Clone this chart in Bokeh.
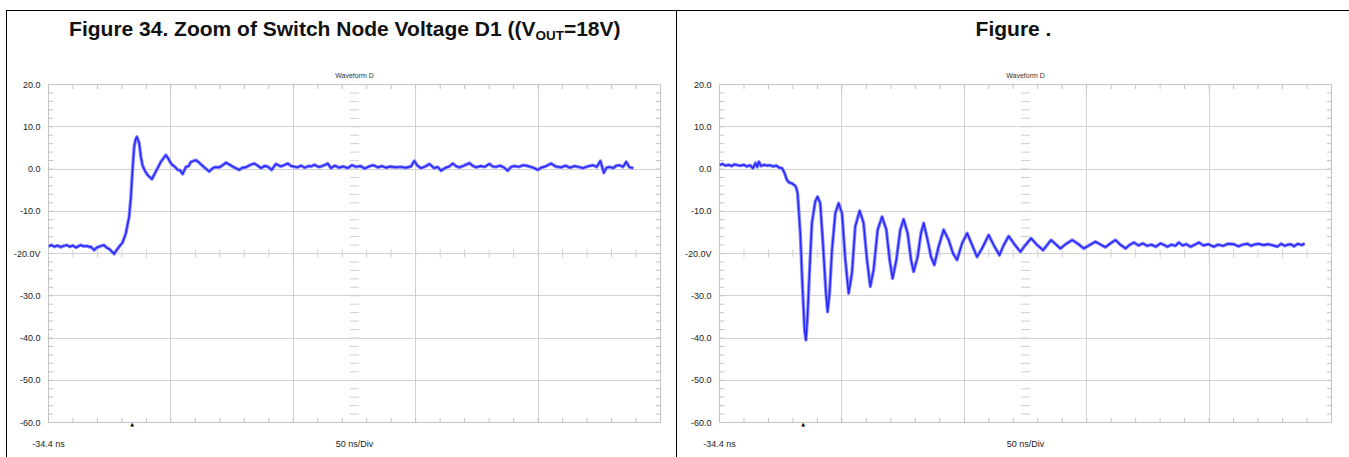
import numpy as np
from bokeh.plotting import figure
from bokeh.layouts import row, column
from bokeh.models import Range1d, FixedTicker, LinearAxis, Spacer
from bokeh.core.properties import value
from bokeh.embed import file_html
from bokeh.resources import INLINE

# ---- scope screen settings -------------------------------------------------
T_LEFT = -34.4          # ns at the left edge of the screen
NS_PER_DIV = 50.0
N_DIV = 10
V_TOP, V_BOTTOM = 20.0, -60.0
TRIGGER_NS = 34.0

y_ticks = [20, 10, 0, -10, -20, -30, -40, -50, -60]
y_tick_labels = ["20.0", "10.0", "0.0", "-10.0", "-20.0V", "-30.0", "-40.0", "-50.0", "-60.0"]
x_axis_labels = ["-34.4 ns", "50 ns/Div"]
channel_name = "Waveform D"

# ---- switch node D1, rising edge (ns, V) ------------------------------------
t_rise = [-34.4, -32.0, -29.5, -27.0, -24.5, -22.0, -19.5, -17.0, -14.5, -12.0,
          -9.5, -8.0, -5.5, -3.0, -0.5, 0.2, 2.9, 5.0, 7.5, 10.8,
          13.0, 15.5, 17.5, 19.2, 21.0, 23.3, 26.1, 28.8, 30.3, 31.5,
          32.9, 34.3, 35.6, 36.8, 37.8, 39.7, 41.0, 42.4, 44.5, 46.5,
          50.1, 53.3, 57.4, 61.5, 63.4, 65.5, 67.0, 69.0, 71.1, 73.0,
          75.2, 77.9, 80.0, 82.0, 86.0, 88.7, 92.8, 96.9, 99.0, 101.0,
          105.1, 108.0, 110.6, 116.0, 118.5, 121.4, 124.0, 126.9, 130.0, 133.7,
          136.5, 139.2, 142.0, 144.6, 147.9, 151.4, 155.5, 158.0, 161.0, 164.0,
          169.2, 172.0, 175.0, 178.0, 180.0, 183.0, 186.0, 188.2, 191.0, 193.7,
          196.4, 199.5, 203.0, 206.5, 210.0, 213.5, 217.0, 220.5, 224.0, 227.5,
          231.0, 234.5, 238.0, 241.5, 245.0, 249.0, 253.6, 257.5, 261.8, 264.5,
          267.0, 269.9, 273.5, 276.8, 280.8, 283.5, 286.3, 290.0, 293.0, 295.9,
          298.5, 301.3, 305.0, 309.5, 312.0, 314.9, 318.5, 322.0, 325.8, 328.5,
          331.3, 334.5, 337.5, 340.8, 343.5, 346.2, 350.0, 353.5, 357.2, 361.0,
          365.4, 368.0, 371.5, 376.2, 380.0, 384.4, 388.0, 391.5, 395.3, 398.5,
          402.2, 406.0, 410.3, 413.5, 416.5, 419.3, 421.5, 424.0, 427.0, 429.5,
          432.1, 435.0, 437.6, 440.3, 443.5]
v_rise = [-18.3, -18.0, -18.4, -18.1, -18.5, -18.2, -18.0, -18.4, -18.1, -18.6,
          -18.2, -18.0, -18.3, -18.2, -18.5, -18.4, -19.2, -18.6, -18.3, -18.0,
          -18.6, -19.0, -19.6, -20.1, -19.3, -18.4, -17.4, -15.2, -13.0, -11.3,
          -6.6, 0.0, 5.3, 7.0, 7.6, 6.1, 3.0, 0.9, -0.5, -1.4,
          -2.4, -0.6, 1.7, 3.3, 2.5, 1.4, 0.9, 0.5, -0.2, -0.3,
          -1.2, 0.5, 0.7, 1.7, 2.1, 1.5, 0.4, -0.6, 0.0, 0.4,
          0.4, 0.9, 1.5, 0.6, 0.2, -0.2, 0.3, 0.4, 0.9, 1.3,
          0.8, 0.2, 0.7, 0.6, -0.2, 1.2, 0.6, 0.9, 1.3, 0.7,
          0.4, 0.8, 0.3, 0.7, 0.6, 1.0, 0.5, 0.6, 0.9, 1.3,
          0.2, 0.8, 0.3, 0.6, 0.2, 0.9, 0.5, 0.7, 0.1, 0.6,
          0.9, 0.4, 0.7, 0.3, 0.6, 0.4, 0.5, 0.3, 0.6, 1.9,
          0.8, 0.2, 0.6, 1.2, 0.2, 0.5, -0.4, 0.3, 0.6, 1.3,
          0.7, 0.4, 0.8, 1.4, 0.8, 0.4, 0.7, 0.5, 1.2, 0.6,
          0.5, 0.8, 0.4, -0.4, 0.5, 0.7, 0.5, 0.9, 0.7, 0.4,
          -0.2, 0.3, 0.6, 1.3, 0.6, 0.4, 0.8, 0.3, 0.7, 0.5,
          0.2, 0.6, 0.9, 0.5, 1.9, -0.9, 0.3, 0.5, 0.2, 0.8,
          0.9, 0.5, 1.7, 0.4, 0.2]

# ---- switch node, falling edge with ringing (ns, V) -------------------------
t_fall = [-34.4, -32.0, -29.5, -27.0, -24.5, -22.0, -19.5, -17.0, -14.5, -12.0,
          -9.5, -7.0, -5.0, -3.5, -2.2, -0.5, 2.0, 4.5, 7.0, 9.5,
          12.0, 14.5, 16.6, 18.5, 20.7, 22.5, 24.8, 27.5, 28.5, 29.4,
          31.6, 33.5, 35.1, 36.2, 37.5, 39.2, 41.1, 43.8, 45.7, 47.9,
          50.1, 52.6, 53.9, 55.5, 57.5, 60.2, 62.9, 65.7, 68.4, 71.1,
          73.8, 76.5, 80.1, 83.3, 86.1, 88.8, 91.5, 94.8, 98.4, 101.9,
          104.6, 107.0, 110.1, 113.3, 116.0, 119.3, 122.1, 124.2, 127.5, 130.2,
          132.4, 135.6, 138.4, 141.1, 144.6, 148.7, 152.8, 156.4, 159.7, 163.8,
          167.9, 171.4, 176.0, 180.1, 185.5, 189.6, 194.3, 197.8, 201.9, 206.0,
          211.4, 215.5, 220.2, 225.1, 230.0, 236.5, 244.1, 248.5, 253.7, 258.0,
          263.2, 268.0, 272.7, 277.0, 280.9, 285.0, 289.1, 293.0, 297.3, 300.5,
          304.1, 308.0, 311.5, 315.0, 318.5, 322.0, 325.9, 329.0, 331.4, 335.0,
          338.0, 340.8, 344.0, 347.0, 350.4, 354.0, 357.2, 361.0, 365.0, 369.5,
          373.0, 377.0, 381.0, 385.8, 389.5, 393.0, 397.0, 400.0, 402.2, 406.0,
          410.0, 414.0, 418.0, 421.3, 424.5, 427.5, 430.0, 432.2, 435.0, 438.0,
          441.7, 443.6]
v_fall = [0.9, 1.2, 0.8, 1.0, 0.7, 1.1, 0.9, 0.8, 1.0, 0.6,
          0.9, 0.2, 1.4, 0.5, 1.7, 0.7, 1.0, 0.8, 0.9, 0.6,
          0.8, 0.3, 0.2, -0.8, -2.6, -3.2, -3.4, -4.0, -4.6, -5.75,
          -15.2, -28.6, -38.1, -40.5, -35.0, -23.9, -12.8, -7.7, -6.55, -8.1,
          -17.6, -29.4, -33.8, -29.4, -19.2, -10.5, -8.1, -10.5, -21.5, -29.4,
          -24.7, -13.6, -9.9, -12.8, -21.5, -27.8, -23.9, -14.4, -11.3, -14.4,
          -21.5, -25.9, -21.5, -14.4, -11.9, -15.2, -21.5, -24.3, -20.8, -15.2,
          -12.8, -16.8, -20.8, -22.7, -18.4, -14.4, -16.8, -20.0, -21.5, -17.6,
          -15.2, -17.6, -20.8, -18.8, -15.6, -18.0, -20.4, -18.0, -15.9, -17.6,
          -19.6, -18.0, -16.4, -18.0, -19.2, -16.8, -18.8, -17.8, -16.8, -17.6,
          -18.8, -18.0, -17.2, -17.9, -18.5, -17.6, -16.8, -17.9, -18.8, -18.0,
          -17.4, -18.1, -17.6, -18.2, -17.9, -18.4, -17.6, -18.0, -18.4, -17.9,
          -18.2, -17.4, -18.1, -17.8, -18.4, -17.9, -17.4, -18.1, -17.8, -18.4,
          -17.9, -18.2, -17.7, -17.8, -18.3, -17.9, -17.7, -18.2, -17.9, -17.7,
          -18.0, -17.8, -18.1, -18.4, -17.7, -18.2, -17.9, -17.8, -18.3, -17.7,
          -18.0, -17.6]

FONT = "Liberation Sans"
GRID = "#d2d2d2"
TICK = "#c2c2c2"
TRACE_CORE = "#2424ff"
TRACE_HALO = "#8585ff"

t_right = T_LEFT + NS_PER_DIV * N_DIV
t_center = T_LEFT + NS_PER_DIV * N_DIV / 2
x_major = [T_LEFT + 2 * NS_PER_DIV * k for k in range(1, N_DIV // 2)]
x_minor = [T_LEFT + 20.0 * k for k in range(0, 26)]
y_minor = list(np.arange(V_BOTTOM, V_TOP + 0.1, 2.0))

PANEL_H = 446
HEADER_H = 68
SCOPE_TOP = 5           # room for the top volt label
FRAME_H = 338
SCOPE_H = PANEL_H - HEADER_H
TITLE_Y = 17            # caption anchor rows inside the header strip
CHANNEL_Y = 63.5


def header(width, frame_left, title_parts):
    """Caption strip above a scope screen; coordinates are pixels from its top-left."""
    h = figure(width=width, height=HEADER_H, x_range=Range1d(0, width),
               y_range=Range1d(HEADER_H, 0), x_axis_location=None, y_axis_location=None,
               output_backend="svg", toolbar_location=None, min_border=0, title=None,
               frame_align=False)
    h.outline_line_color = None
    h.border_fill_color = "white"
    h.background_fill_color = "white"
    h.xgrid.visible = False
    h.ygrid.visible = False
    cx = width / 2
    for txt, dx, dy, size, align in title_parts:
        h.text(x=[cx + dx], y=[TITLE_Y + dy], text=[txt], text_align=align,
               text_baseline="alphabetic", text_font=value(FONT), text_font_style="bold",
               text_font_size=size, text_color="#111111")
    h.text(x=[frame_left + 306], y=[CHANNEL_Y], text=[channel_name], text_align="center",
           text_baseline="alphabetic", text_font=value(FONT), text_font_size="7px",
           text_color="#333333")
    return h


def scope_panel(t, v, width, border_left, border_right):
    p = figure(width=width, height=SCOPE_H, title=None, frame_align=False,
               x_range=Range1d(T_LEFT, t_right), y_range=Range1d(V_BOTTOM, V_TOP),
               x_axis_location=None, output_backend="svg", toolbar_location=None,
               min_border_left=border_left, min_border_right=border_right,
               min_border_top=SCOPE_TOP, min_border_bottom=SCOPE_H - SCOPE_TOP - FRAME_H)
    p.background_fill_color = "white"
    p.border_fill_color = "white"
    p.outline_line_color = "#c4c4c4"
    p.outline_line_width = 1

    # graticule
    p.xgrid.ticker = FixedTicker(ticks=x_major)
    p.ygrid.ticker = FixedTicker(ticks=y_ticks[1:-1])
    for g in (p.xgrid[0], p.ygrid[0]):
        g.grid_line_color = GRID
        g.grid_line_width = 1

    # left axis: volt labels only
    yax = p.yaxis[0]
    yax.ticker = FixedTicker(ticks=y_ticks)
    yax.major_label_overrides = {float(k): s for k, s in zip(y_ticks, y_tick_labels)}
    yax.axis_line_color = None
    yax.major_tick_line_color = None
    yax.minor_tick_line_color = None
    yax.major_tick_in = 0
    yax.major_tick_out = 0
    yax.major_label_standoff = 8
    yax.major_label_text_font = FONT
    yax.major_label_text_font_size = "9px"
    yax.major_label_text_color = "#222222"

    # trigger position marker just under the screen
    trig = LinearAxis(ticker=FixedTicker(ticks=[TRIGGER_NS]),
                      major_label_overrides={TRIGGER_NS: "\u25b2"},
                      axis_line_color=None, major_tick_line_color=None,
                      minor_tick_line_color=None, major_tick_in=0, major_tick_out=0,
                      major_label_standoff=-2, major_label_text_font="DejaVu Sans",
                      major_label_text_font_size="5px", major_label_text_color="#000000")
    p.add_layout(trig, "below")

    # start time and timebase under the screen
    xax = LinearAxis(ticker=FixedTicker(ticks=[T_LEFT, t_center]),
                     major_label_overrides={T_LEFT: x_axis_labels[0], t_center: x_axis_labels[1]},
                     axis_line_color=None, major_tick_line_color=None,
                     minor_tick_line_color=None, major_tick_in=0, major_tick_out=0,
                     major_label_standoff=9, major_label_text_font=FONT,
                     major_label_text_font_size="9px", major_label_text_color="#222222")
    p.add_layout(xax, "below")

    # edge ticks (half of each dash is clipped away by the screen border)
    n_y, n_x = len(y_minor), len(x_minor)
    p.scatter(x=[T_LEFT] * n_y, y=y_minor, marker="dash", size=9, line_color=TICK)
    p.scatter(x=[t_right] * n_y, y=y_minor, marker="dash", size=9, line_color=TICK)
    p.scatter(x=x_minor, y=[V_TOP] * n_x, marker="dash", angle=np.pi / 2, size=9, line_color=TICK)
    p.scatter(x=x_minor, y=[V_BOTTOM] * n_x, marker="dash", angle=np.pi / 2, size=9, line_color=TICK)

    # centre cross ticks
    p.scatter(x=[t_center] * n_y, y=y_minor, marker="dash", size=9,
              line_color="#cfcfcf", line_width=1)
    p.scatter(x=x_minor, y=[-20.0] * n_x, marker="dash", angle=np.pi / 2,
              size=8, line_color="#cfcfcf", line_width=1)

    # waveform
    p.line(t, v, line_color=TRACE_HALO, line_width=3.4, line_join="round")
    p.line(t, v, line_color=TRACE_CORE, line_width=1.4, line_join="round")
    return p


left_title = [("Figure 34. Zoom of Switch Node Voltage D1 ((V", 193.4, 0, "21px", "right"),
              ("OUT", 193.4, 7, "13.5px", "left"),
              ("=18V)", 221.9, 0, "21px", "left")]
right_title = [("Figure .", 0, 0, "21px", "center")]

LEFT_W, RIGHT_W = 669, 672
panel_left = column(header(LEFT_W, 41, left_title), scope_panel(t_rise, v_rise, LEFT_W, 41, 16))
panel_right = column(header(RIGHT_W, 42, right_title), scope_panel(t_fall, v_fall, RIGHT_W, 42, 18))


def rule(w, h):
    return Spacer(width=w, height=h, styles={"background-color": "#000000"})


layout = column(
    Spacer(width=1349, height=10),
    row(Spacer(width=6, height=1), rule(1343, 1)),
    row(Spacer(width=6, height=PANEL_H), rule(1, PANEL_H), panel_left, rule(1, PANEL_H), panel_right),
)

open("out.html", "w").write(file_html(layout, INLINE))
